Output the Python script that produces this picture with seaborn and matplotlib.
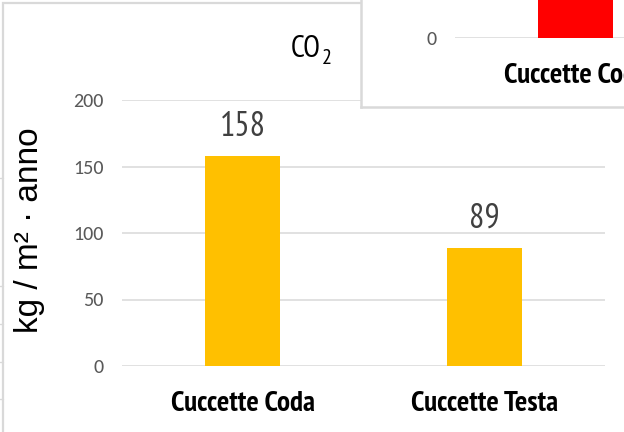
import matplotlib
matplotlib.use("Agg")
import matplotlib.pyplot as plt
from matplotlib.patches import Rectangle
from matplotlib.lines import Line2D
import seaborn as sns
import pandas as pd

# Main chart data: annual CO2 per square metre by carriage type
categories = ["Cuccette Coda", "Cuccette Testa"]
co2_values = [158, 89]
y_ticks = [0, 50, 100, 150, 200]

# Second chart sitting on top (only its lower-left corner shows)
inset_categories = ["Cuccette Coda", "Cuccette Testa"]
inset_values = [158, 0]
inset_ticks = [0]

NARROW = ["PT Sans Narrow", "Barlow Semi Condensed", "DejaVu Sans"]
REGULAR = ["Carlito", "Liberation Sans", "DejaVu Sans"]

sns.set_theme(style="white")
plt.rcParams["font.family"] = NARROW

W, H = 624, 432
fig = plt.figure(figsize=(W / 100, H / 100), dpi=100)
fig.patch.set_facecolor("white")

def fx(px):
    return px / W

def fy(py):
    return 1 - py / H

GRID = "#d9d9d9"


def style_axes(a, tick_values):
    a.set_ylim(0, 200)
    a.set_xlim(-0.5, 1.5)
    a.set_yticks(tick_values)
    a.yaxis.grid(True, color=GRID, linewidth=1.1)
    a.set_axisbelow(True)
    for s in a.spines.values():
        s.set_visible(False)
    a.tick_params(axis="y", length=0, pad=13, labelsize=14.5, labelcolor="#595959")
    for lab in a.get_yticklabels():
        lab.set_fontfamily(REGULAR)
    a.tick_params(axis="x", length=0, pad=18, labelsize=21, labelcolor="black")
    for lab in a.get_xticklabels():
        lab.set_fontweight("bold")
        lab.set_fontfamily(NARROW)
    a.set_xlabel("")
    a.set_ylabel("")


# ---- main chart ----
ax = fig.add_axes([fx(122), fy(366), fx(605 - 122), fy(100) - fy(366)])
df = pd.DataFrame({"cat": categories, "val": co2_values})
sns.barplot(data=df, x="cat", y="val", ax=ax, color="#ffc000",
            width=0.31, saturation=1, edgecolor="none")
style_axes(ax, y_ticks)
ax.bar_label(ax.containers[0], fmt="%d", padding=9.5, fontsize=24.5,
             color="#404040", family=NARROW)

fig.text(fx(30), fy(230), "kg / m² · anno", rotation=90, ha="center", va="center",
         fontsize=24, color="black", family=["Liberation Sans", "DejaVu Sans"])
# chart title: CO with subscript 2
fig.text(fx(321), fy(57), "CO", ha="right", va="baseline",
         fontsize=22, color="black", family=NARROW)
fig.text(fx(322), fy(64), "2", ha="left", va="baseline",
         fontsize=16, color="black", family=NARROW)

# outer frame of the main chart
fig.add_artist(Rectangle((fx(3), -0.2), 1.5, fy(3) + 0.2, transform=fig.transFigure,
                         fill=False, edgecolor=GRID, linewidth=1.6))
for py in [178, 286, 324, 362, 399]:
    fig.add_artist(Line2D([0, fx(3)], [fy(py), fy(py)], transform=fig.transFigure,
                          color=GRID, linewidth=1.0))

# ---- overlapping chart box ----
box = fig.add_axes([fx(361), fy(107), 0.6, 0.6], zorder=2)
box.set_facecolor("white")
box.set_xticks([])
box.set_yticks([])
for name, s in box.spines.items():
    s.set_visible(name in ("left", "bottom"))
    s.set_color(GRID)
    s.set_linewidth(1.8)

inset = fig.add_axes([fx(455), fy(38), fx(2 * 241.5), 266 / H], zorder=3)
inset.patch.set_alpha(0)
idf = pd.DataFrame({"cat": inset_categories, "val": inset_values})
sns.barplot(data=idf, x="cat", y="val", ax=inset, color="#ff0000",
            width=0.31, saturation=1, edgecolor="none")
style_axes(inset, inset_ticks)

fig.savefig("out.png", dpi=100, facecolor="white")
